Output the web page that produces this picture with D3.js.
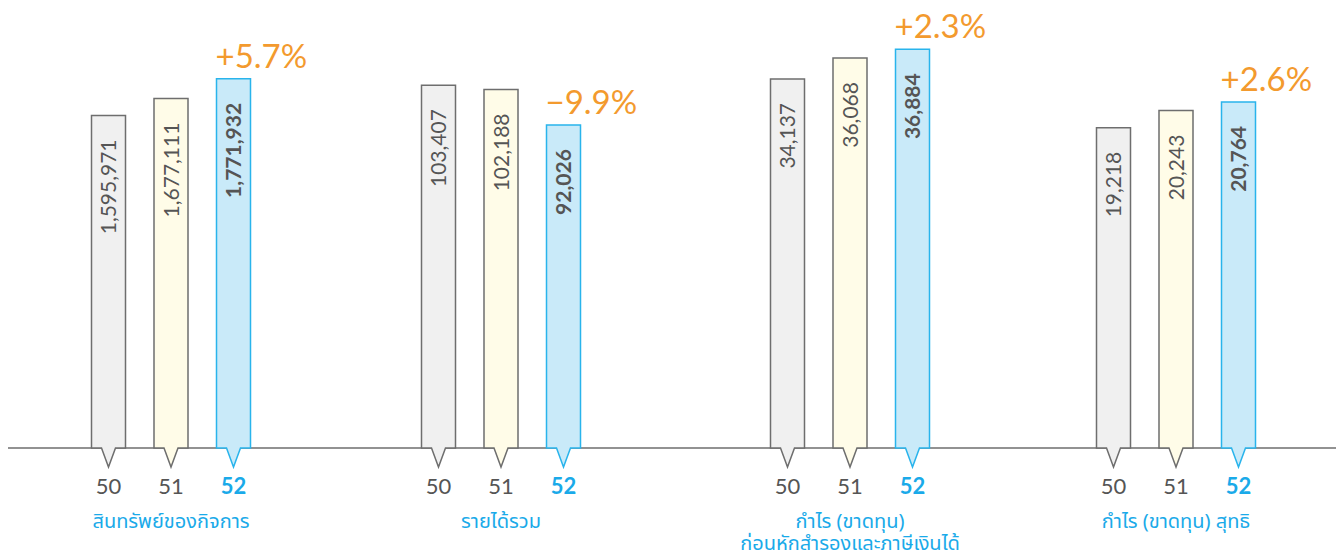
<!DOCTYPE html>
<html>
<head>
<meta charset="utf-8">
<script src="https://cdn.jsdelivr.net/npm/d3@7"></script>
<style>
  body { margin: 0; background: #fff; }
  svg { display: block; }
</style>
</head>
<body>
<svg class="chart" width="1341" height="559"></svg>
<script>
const groups = ['สินทรัพย์ของกิจการ', 'รายได้รวม', 'กำไร (ขาดทุน)\nก่อนหักสำรองและภาษีเงินได้', 'กำไร (ขาดทุน) สุทธิ'];
const years = ['50', '51', '52'];
const values = [
    [1595971, 1677111, 1771932],
    [103407, 102188, 92026],
    [34137, 36068, 36884],
    [19218, 20243, 20764],
];
const changes = ['+5.7%', '−9.9%', '+2.3%', '+2.6%'];
// each group is drawn on its own scale
const scaleMax = [1920000, 114000, 37000, 24000];

const fillColors = { '50': '#f0f0f0', '51': '#fffce8', '52': '#c9eaf9' };
const strokeColors = { '50': '#6e6e6e', '51': '#6e6e6e', '52': '#29b4ec' };
const blue = '#1aaae9';
const grey = '#555555';
const orange = '#f39a2e';

const svg = d3.select('.chart');
const baseY = 448;

// group centres are not evenly spaced in the original layout
const xs = d3.scaleOrdinal().domain(groups).range([171, 501, 850, 1176]);
const inner = d3.scaleBand().domain(years).range([-79.5, 79.5]).paddingInner(0.456).paddingOuter(0);
const yScales = scaleMax.map(m => d3.scaleLinear().domain([0, m]).range([baseY, 48]));

svg.append('line')
    .attr('x1', 8).attr('x2', 1336)
    .attr('y1', baseY).attr('y2', baseY)
    .attr('stroke', '#6e6e6e')
    .attr('stroke-width', 1.3);

const groupEls = svg.selectAll('.group')
    .data(groups)
    .enter()
    .append('g')
    .attr('class', 'group')
    .attr('transform', d => `translate(${xs(d)},0)`);

groupEls.each(function (g, gi) {
    const el = d3.select(this);
    const ys = yScales[gi];
    const bw = inner.bandwidth();
    const rows = years.map((y, i) => ({ year: y, value: values[gi][i] }));

    const bar = el.selectAll('.bar')
        .data(rows)
        .enter()
        .append('g')
        .attr('class', 'bar');

    // bar with pointer below the baseline
    bar.append('path')
        .attr('d', d => {
            const x0 = inner(d.year), x1 = x0 + bw, cx = x0 + bw / 2, top = ys(d.value);
            return `M${x0},${top}H${x1}V${baseY}H${cx + 7}L${cx},${baseY + 19}L${cx - 7},${baseY}H${x0}Z`;
        })
        .attr('fill', d => fillColors[d.year])
        .attr('stroke', d => strokeColors[d.year])
        .attr('stroke-width', 1.5)
        .attr('stroke-linejoin', 'miter');

    bar.append('text')
        .attr('transform', d => `translate(${inner(d.year) + bw / 2 + 7.5},${ys(d.value) + 24}) rotate(-90)`)
        .attr('text-anchor', 'end')
        .attr('font-family', 'Lato, "Noto Sans", sans-serif')
        .attr('font-size', 21)
        .attr('font-weight', d => d.year === '52' ? 700 : 400)
        .attr('fill', grey)
        .text(d => d3.format(',')(d.value));

    bar.append('text')
        .attr('x', d => inner(d.year) + bw / 2)
        .attr('y', 494)
        .attr('text-anchor', 'middle')
        .attr('font-family', 'Lato, "Noto Sans", sans-serif')
        .attr('font-size', 22)
        .attr('font-weight', d => d.year === '52' ? 700 : 400)
        .attr('fill', d => d.year === '52' ? blue : grey)
        .text(d => d.year);

    const last = rows[rows.length - 1];
    el.append('text')
        .attr('x', inner(last.year) - 1)
        .attr('y', ys(last.value) - 11)
        .attr('font-family', 'Lato, "Noto Sans", sans-serif')
        .attr('font-size', 33)
        .attr('font-weight', 400)
        .attr('fill', orange)
        .text(changes[gi]);

    const lab = el.append('text')
        .attr('text-anchor', 'middle')
        .attr('font-family', '"Noto Sans Thai", "Noto Sans", sans-serif')
        .attr('font-size', 20)
        .attr('fill', blue);
    g.split('\n').forEach((line, li) => {
        lab.append('tspan').attr('x', 0).attr('y', 528 + li * 22).text(line);
    });
});
</script>
</body>
</html>
